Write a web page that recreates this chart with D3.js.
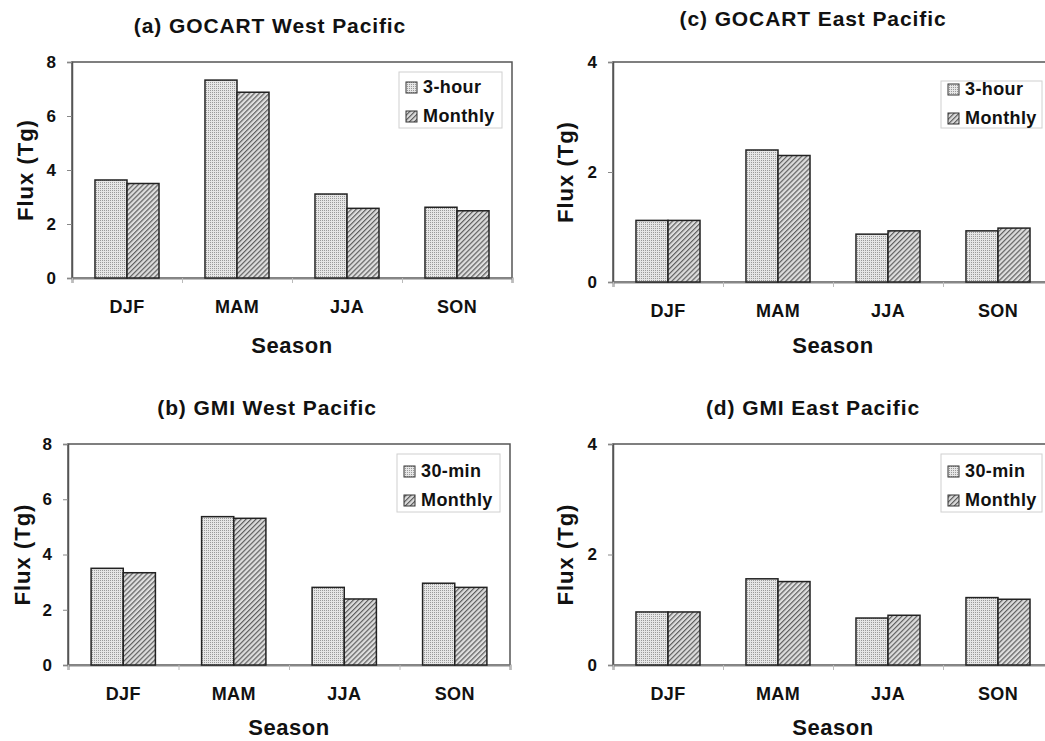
<!DOCTYPE html>
<html>
<head>
<meta charset="utf-8">
<script src="https://cdn.jsdelivr.net/npm/d3@7"></script>
<style>
    body { margin: 0; background: #fff; overflow: hidden; }
    svg { display: block; font-family: "Liberation Sans", Arial, sans-serif; font-weight: bold; }
</style>
</head>
<body>
<div id="view"></div>
<script>
const seasons = ['DJF', 'MAM', 'JJA', 'SON'];

// (a) GOCART West Pacific
const gocartWest3hour = [3.63, 7.33, 3.11, 2.62];
const gocartWestMonthly = [3.50, 6.88, 2.58, 2.49];
// (c) GOCART East Pacific
const gocartEast3hour = [1.12, 2.40, 0.87, 0.93];
const gocartEastMonthly = [1.12, 2.30, 0.93, 0.98];
// (b) GMI West Pacific
const gmiWest30min = [3.50, 5.37, 2.81, 2.96];
const gmiWestMonthly = [3.34, 5.31, 2.39, 2.81];
// (d) GMI East Pacific
const gmiEast30min = [0.96, 1.56, 0.85, 1.22];
const gmiEastMonthly = [0.96, 1.51, 0.90, 1.19];

const westTicks = [0, 2, 4, 6, 8];
const eastTicks = [0, 2, 4];

const panels = [
    {title: '(a) GOCART West Pacific', names: ['3-hour', 'Monthly'], values: [gocartWest3hour, gocartWestMonthly], ticks: westTicks,
     left: 72, top: 62, width: 440, height: 216, titleX: 270, titleY: 33, labelX: 25, seasonY: 353,
     legend: {x: 399, y: 72, w: 103, h: 56, first: 21}},
    {title: '(c) GOCART East Pacific', names: ['3-hour', 'Monthly'], values: [gocartEast3hour, gocartEastMonthly], ticks: eastTicks,
     left: 613, top: 62, width: 440, height: 220, titleX: 813, titleY: 26, labelX: 565, seasonY: 353,
     legend: {x: 941, y: 81, w: 101, h: 47, first: 14}},
    {title: '(b) GMI West Pacific', names: ['30-min', 'Monthly'], values: [gmiWest30min, gmiWestMonthly], ticks: westTicks,
     left: 68, top: 444, width: 442, height: 221, titleX: 267, titleY: 415, labelX: 22, seasonY: 735,
     legend: {x: 397, y: 454, w: 103, h: 58, first: 23}},
    {title: '(d) GMI East Pacific', names: ['30-min', 'Monthly'], values: [gmiEast30min, gmiEastMonthly], ticks: eastTicks,
     left: 613, top: 444, width: 440, height: 221, titleX: 813, titleY: 415, labelX: 565, seasonY: 735,
     legend: {x: 941, y: 454, w: 101, h: 58, first: 23}}
];

const fills = ['url(#dots)', 'url(#hatch)'];

const svg = d3.select('#view')
    .append('svg')
        .attr('width', 1045)
        .attr('height', 741);

// fill patterns: fine dots and diagonal hatching
const defs = svg.append('defs');
const dots = defs.append('pattern')
    .attr('id', 'dots')
    .attr('width', 2)
    .attr('height', 2)
    .attr('patternUnits', 'userSpaceOnUse');
dots.append('rect').attr('width', 2).attr('height', 2).attr('fill', '#e6e6e6');
dots.append('rect').attr('width', 1).attr('height', 1).attr('fill', '#9a9a9a');

const hatch = defs.append('pattern')
    .attr('id', 'hatch')
    .attr('width', 3.5)
    .attr('height', 3.5)
    .attr('patternUnits', 'userSpaceOnUse')
    .attr('patternTransform', 'rotate(45)');
hatch.append('rect').attr('width', 3.5).attr('height', 3.5).attr('fill', '#dedede');
hatch.append('line')
    .attr('x1', 0.6).attr('y1', 0).attr('x2', 0.6).attr('y2', 3.5)
    .attr('stroke', '#5e5e5e')
    .attr('stroke-width', 1.2);

panels.forEach(drawPanel);

function drawPanel(p) {
    const g = svg.append('g')
        .attr('transform', `translate(${p.left},${p.top})`);

    // X scales
    const x0 = d3.scaleBand()
        .domain(seasons)
        .range([0, p.width])
        .paddingInner(0.418)
        .paddingOuter(0.209);
    const x1 = d3.scaleBand()
        .domain([0, 1])
        .range([0, x0.bandwidth()]);

    // Y scale
    const y = d3.scaleLinear()
        .domain([0, d3.max(p.ticks)])
        .range([p.height, 0]);

    // frame
    g.append('rect')
        .attr('width', p.width)
        .attr('height', p.height)
        .attr('fill', 'none')
        .attr('stroke', '#555')
        .attr('stroke-width', 1.5);

    // Y axis
    const yAxis = g.append('g')
        .call(d3.axisLeft(y).tickValues(p.ticks).tickFormat(d3.format('d')).tickSize(5).tickPadding(11));
    yAxis.select('.domain').attr('stroke', '#555').attr('stroke-width', 1.5);
    yAxis.selectAll('.tick line').attr('stroke', '#888');
    yAxis.selectAll('.tick text')
        .attr('fill', '#111')
        .style('font-size', '17px');

    // boundary ticks under the base line
    const xb = d3.scaleLinear().domain([0, seasons.length]).range([0, p.width]);
    const tickAxis = g.append('g')
        .attr('transform', `translate(0,${p.height})`)
        .call(d3.axisBottom(xb).ticks(seasons.length).tickSize(5).tickFormat(''));
    tickAxis.select('.domain').attr('stroke', '#888').attr('stroke-width', 2);
    tickAxis.selectAll('.tick line').attr('stroke', '#bbb');

    // category labels
    const catAxis = g.append('g')
        .attr('transform', `translate(0,${p.height})`)
        .call(d3.axisBottom(x0).tickSize(0).tickPadding(22));
    catAxis.select('.domain').remove();
    catAxis.selectAll('.tick text')
        .attr('fill', '#111')
        .style('font-size', '18px')
        .style('letter-spacing', '0.3px');

    // bars
    p.values.forEach((series, si) => {
        g.selectAll(null)
            .data(series)
            .join('rect')
                .attr('x', (d, i) => x0(seasons[i]) + x1(si))
                .attr('y', d => y(d))
                .attr('width', x1.bandwidth())
                .attr('height', d => y(0) - y(d))
                .attr('fill', fills[si])
                .attr('stroke', '#222')
                .attr('stroke-width', 1.5);
    });

    // titles
    svg.append('text')
        .attr('x', p.titleX)
        .attr('y', p.titleY)
        .attr('text-anchor', 'middle')
        .attr('fill', '#111')
        .style('font-size', '21px')
        .style('letter-spacing', '0.9px')
        .text(p.title);

    svg.append('text')
        .attr('x', p.left + p.width / 2)
        .attr('y', p.seasonY)
        .attr('text-anchor', 'middle')
        .attr('fill', '#111')
        .style('font-size', '22px')
        .style('letter-spacing', '0.5px')
        .text('Season');

    svg.append('text')
        .attr('transform', `translate(${p.labelX},${p.top + p.height / 2}) rotate(-90)`)
        .attr('text-anchor', 'middle')
        .attr('dy', '0.35em')
        .attr('fill', '#111')
        .style('font-size', '22px')
        .style('letter-spacing', '1px')
        .text('Flux (Tg)');

    // legend
    const lg = svg.append('g')
        .attr('transform', `translate(${p.legend.x},${p.legend.y})`);
    lg.append('rect')
        .attr('width', p.legend.w)
        .attr('height', p.legend.h)
        .attr('fill', '#fff')
        .attr('stroke', '#d0d0d0');
    p.names.forEach((name, si) => {
        const base = p.legend.first + si * 29;
        lg.append('rect')
            .attr('x', 7)
            .attr('y', base - 11)
            .attr('width', 11)
            .attr('height', 11)
            .attr('fill', fills[si])
            .attr('stroke', '#333');
        lg.append('text')
            .attr('x', 24)
            .attr('y', base)
            .attr('fill', '#111')
            .style('font-size', '18px')
            .style('letter-spacing', '0.4px')
            .text(name);
    });
}
</script>
</body>
</html>
